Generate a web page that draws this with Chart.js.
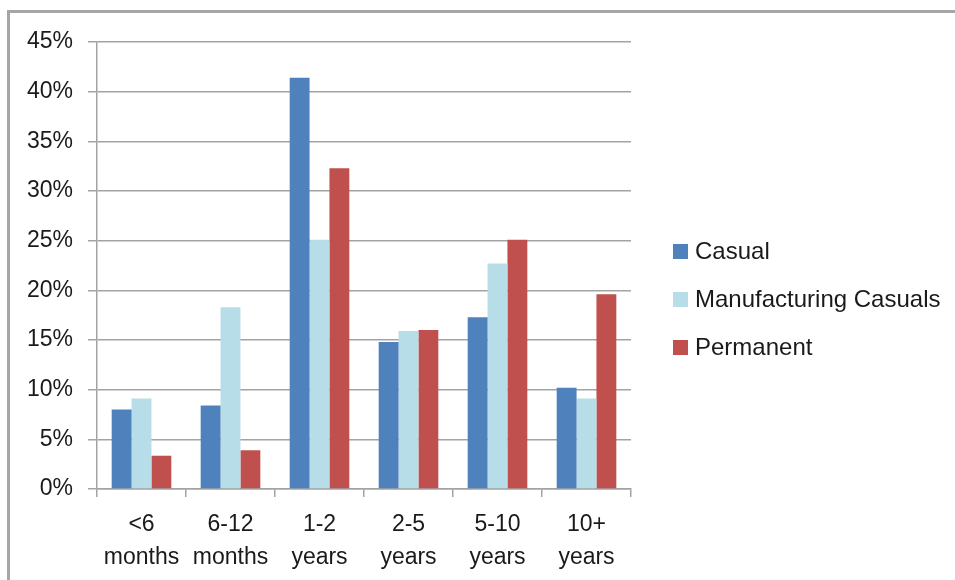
<!DOCTYPE html>
<html>
<head>
<meta charset="utf-8">
<script src="https://cdn.jsdelivr.net/npm/chart.js"></script>
<style>
  html, body { margin: 0; padding: 0; background: #fff; }
  #frame { position: absolute; left: 7px; top: 10px; width: 960px; height: 600px;
           border-left: 3px solid #a6a6a6; border-top: 3px solid #a6a6a6; }
  #wrap { position: absolute; left: 0; top: 0; width: 955px; height: 580px; }
</style>
</head>
<body>
<div id="frame"></div>
<div id="wrap"><canvas id="chart"></canvas></div>
<script>
// Datos (porcentajes)
const categories = [['<6', 'months'], ['6-12', 'months'], ['1-2', 'years'], ['2-5', 'years'], ['5-10', 'years'], ['10+', 'years']];
const casual = [8.0, 8.4, 41.4, 14.8, 17.3, 10.2];
const manufacturingCasuals = [9.1, 18.3, 25.1, 15.9, 22.7, 9.1];
const permanent = [3.35, 3.9, 32.3, 16.0, 25.1, 19.6];
const seriesNames = ['Casual', 'Manufacturing Casuals', 'Permanent'];
const yMax = 45;
const yStep = 5;

Chart.defaults.font.family = '"Liberation Sans", Arial, sans-serif';
Chart.defaults.font.size = 23;
Chart.defaults.color = '#1a1a1a';

// Leyenda a la derecha, dibujada a mano
const sideLegend = {
  id: 'sideLegend',
  afterDraw(chart) {
    const c = chart.ctx;
    c.save();
    c.font = '24px "Liberation Sans", Arial, sans-serif';
    c.textBaseline = 'middle';
    chart.data.datasets.forEach((ds, i) => {
      const y = 252 + i * 48;
      c.fillStyle = ds.backgroundColor;
      c.fillRect(673, y - 8, 15, 15);
      c.fillStyle = '#1a1a1a';
      c.fillText(ds.label, 695, y);
    });
    c.restore();
  }
};

const gridColor = '#a3a3a3';

new Chart(document.getElementById('chart'), {
  type: 'bar',
  data: {
    labels: categories,
    datasets: [
      { label: seriesNames[0], data: casual, backgroundColor: '#4F81BD' },
      { label: seriesNames[1], data: manufacturingCasuals, backgroundColor: '#B7DEE8' },
      { label: seriesNames[2], data: permanent, backgroundColor: '#C0504D' }
    ]
  },
  options: {
    responsive: true,
    maintainAspectRatio: false,
    animation: false,
    layout: { padding: { top: 42, right: 324, left: 0, bottom: 0 } },
    datasets: { bar: { categoryPercentage: 0.67, barPercentage: 1.0 } },
    plugins: { legend: { display: false }, tooltip: { enabled: false } },
    scales: {
      x: {
        afterFit(scale) { scale.height = 91; },
        grid: { drawOnChartArea: false, drawTicks: true, tickLength: 8, color: gridColor, lineWidth: 1.5 },
        border: { color: gridColor, width: 1.5 },
        ticks: { maxRotation: 0, autoSkip: false, padding: 11, font: { size: 23, lineHeight: 1.45 } }
      },
      y: {
        min: 0,
        max: yMax,
        afterFit(scale) { scale.width = 97; },
        grid: { color: gridColor, lineWidth: 1.5, tickLength: 9 },
        border: { color: gridColor, width: 1.5 },
        ticks: { stepSize: yStep, padding: 15, callback: v => v + '%' }
      }
    }
  },
  plugins: [sideLegend]
});
</script>
</body>
</html>
